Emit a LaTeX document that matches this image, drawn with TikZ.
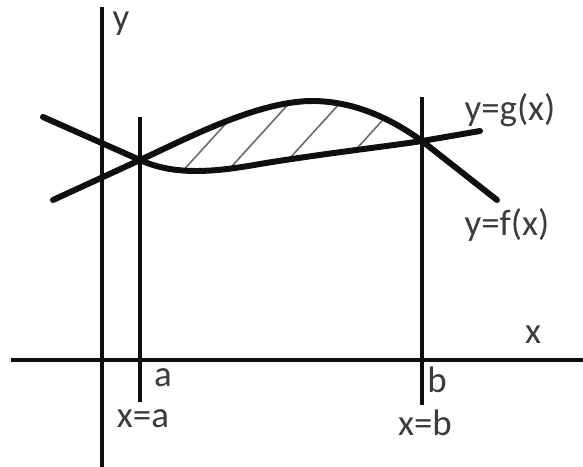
\documentclass[tikz,border=0pt]{standalone}
\usepackage{fontspec}
\setmainfont{Carlito}
\definecolor{ink}{RGB}{15,15,15}
\definecolor{labelgrey}{RGB}{60,60,60}
\definecolor{hatchgrey}{RGB}{105,105,105}
\tikzset{
  axisline/.style={line width=2.2pt,draw=ink},
  curveline/.style={line width=3.4pt,draw=ink,line cap=round,line join=round},
  hatchline/.style={line width=0.9pt,draw=hatchgrey},
  lbl/.style={text=labelgrey,inner sep=0pt,font=\fontsize{21}{25}\selectfont}
}
\begin{document}
\begin{tikzpicture}[x=0.02cm,y=-0.02cm]
  \useasboundingbox (0,0) rectangle (583,467);
  % axes and bounds
  \coordinate (ytop) at (102,7);   \coordinate (ybot) at (102,467);
  \coordinate (xleft) at (11,360); \coordinate (xright) at (583,360);
  \coordinate (atop) at (140,117); \coordinate (abot) at (140,402);
  \coordinate (btop) at (422,97);  \coordinate (bbot) at (422,405);
  \coordinate (A) at (140,160);    \coordinate (B) at (422,141);
  \coordinate (fstart) at (53,200); \coordinate (fend) at (497,200);
  \coordinate (gstart) at (43,117); \coordinate (gend) at (480,131);
  \draw[axisline] (ytop) -- (ybot);
  \draw[axisline] (xleft) -- (xright);
  \draw[axisline] (atop) -- (abot);
  \draw[axisline] (btop) -- (bbot);
  % hatched area between the curves
  \begin{scope}
    \clip (A) .. controls (190,137) and (260,100) .. (315,101)
      .. controls (355,102) and (390,118) .. (B)
      .. controls (390,146) and (320,154) .. (260,164)
      .. controls (215,172) and (175,176) .. (A) -- cycle;
    \foreach \hx/\hy in {190/163,233/165,290/158,360/145}
      \draw[hatchline] (\hx-30,\hy+33) -- (\hx+90,\hy-99);
  \end{scope}
  % curves
  \draw[curveline] (fstart) -- (A) .. controls (190,137) and (260,100) .. (315,101)
    .. controls (355,102) and (390,118) .. (B) -- (fend);
  \draw[curveline] (gstart) -- (A) .. controls (175,176) and (215,172) .. (260,164)
    .. controls (320,154) and (390,146) .. (B) -- (gend);
  % labels
  \node[lbl] (ylbl) at (121,24) {y};
  \node[lbl] (glbl) at (510,110) {y=g(x)};
  \node[lbl] (flbl) at (507,225) {y=f(x)};
  \node[lbl] (xlbl) at (533,335) {x};
  \node[lbl] (albl) at (163,378) {a};
  \node[lbl] (blbl) at (437,380) {b};
  \node[lbl] (xalbl) at (143,419) {x=a};
  \node[lbl] (xblbl) at (425,423) {x=b};
\end{tikzpicture}
\end{document}
